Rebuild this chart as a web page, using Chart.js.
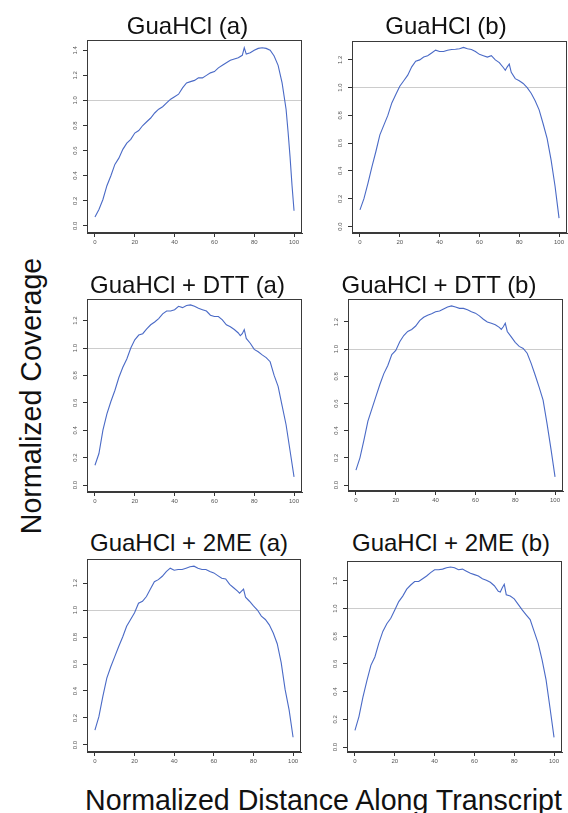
<!DOCTYPE html>
<html><head><meta charset="utf-8">
<script src="https://cdn.jsdelivr.net/npm/chart.js@4.4.1/dist/chart.umd.min.js"></script>
<style>
html,body{margin:0;padding:0;background:#fff;width:568px;height:813px;overflow:hidden;position:relative;font-family:'Liberation Sans',Arial,sans-serif;}
canvas{position:absolute;}
.t{position:absolute;white-space:nowrap;color:#111;font-size:24px;line-height:24px;transform:translateX(-50%);}
.ax{position:absolute;white-space:nowrap;color:#111;font-size:28.6px;line-height:28px;}
</style></head><body>
<script>
// ---- data ----
const titles = ["GuaHCl (a)", "GuaHCl (b)", "GuaHCl + DTT (a)", "GuaHCl + DTT (b)", "GuaHCl + 2ME (a)", "GuaHCl + 2ME (b)"];
const xLabel = "Normalized Distance Along Transcript";
const yLabel = "Normalized Coverage";
const xTicks = [0, 20, 40, 60, 80, 100];
const yTicksA = [0, 0.2, 0.4, 0.6, 0.8, 1.0, 1.2, 1.4];
const yTicksB = [0, 0.2, 0.4, 0.6, 0.8, 1.0, 1.2];

// positions along transcript (%)
const posA = [0,2,4,6,8,10,12,14,16,18,20,22,24,26,28,30,32,34,36,38,40,42,44,46,48,50,52,54,56,58,60,62,64,66,68,70,72,74,75,76,78,80,82,84,86,88,90,92,94,96,97,98,99,100];
const posB = [0,2,4,6,8,10,12,14,16,18,20,22,24,26,28,30,32,34,36,38,40,42,44,46,48,50,52,54,56,58,60,62,64,66,68,70,72,73,74,75,76,78,80,82,84,86,88,90,92,94,96,98,100];

const guaA = [0.07,0.13,0.21,0.32,0.40,0.49,0.54,0.61,0.66,0.69,0.74,0.76,0.80,0.83,0.86,0.90,0.93,0.95,0.98,1.01,1.03,1.05,1.10,1.14,1.15,1.16,1.18,1.18,1.20,1.22,1.23,1.26,1.28,1.30,1.32,1.33,1.34,1.36,1.42,1.37,1.38,1.40,1.415,1.42,1.415,1.40,1.355,1.28,1.14,0.93,0.75,0.55,0.32,0.12];
const guaB = [0.12,0.20,0.31,0.43,0.54,0.66,0.73,0.80,0.89,0.95,1.01,1.05,1.09,1.15,1.19,1.20,1.22,1.23,1.25,1.27,1.26,1.26,1.27,1.275,1.277,1.28,1.29,1.28,1.275,1.26,1.24,1.23,1.22,1.23,1.20,1.18,1.145,1.125,1.15,1.17,1.11,1.065,1.05,1.03,1.00,0.96,0.905,0.84,0.74,0.635,0.48,0.29,0.06];
const dttA = [0.144,0.23,0.40,0.52,0.61,0.69,0.785,0.86,0.92,1.00,1.06,1.095,1.105,1.14,1.17,1.19,1.215,1.25,1.27,1.27,1.28,1.305,1.295,1.31,1.315,1.305,1.29,1.28,1.27,1.24,1.23,1.23,1.205,1.17,1.155,1.135,1.11,1.09,1.105,1.135,1.07,1.035,0.99,0.973,0.95,0.93,0.90,0.80,0.72,0.58,0.44,0.25,0.06];
const dttB = [0.11,0.20,0.33,0.47,0.56,0.65,0.74,0.82,0.88,0.96,0.99,1.055,1.10,1.13,1.145,1.17,1.21,1.235,1.25,1.26,1.275,1.28,1.295,1.31,1.318,1.31,1.30,1.30,1.29,1.275,1.265,1.245,1.22,1.20,1.19,1.18,1.16,1.145,1.165,1.19,1.13,1.09,1.05,1.02,1.005,0.97,0.895,0.81,0.72,0.625,0.45,0.26,0.06];
const meA = [0.11,0.21,0.36,0.495,0.58,0.655,0.73,0.80,0.88,0.93,0.98,1.05,1.065,1.10,1.155,1.21,1.225,1.25,1.285,1.31,1.295,1.30,1.30,1.31,1.32,1.325,1.31,1.30,1.30,1.285,1.275,1.255,1.235,1.23,1.19,1.165,1.14,1.125,1.14,1.155,1.095,1.065,1.03,1.00,0.955,0.93,0.89,0.83,0.75,0.61,0.41,0.26,0.057];
const meB = [0.12,0.22,0.36,0.48,0.59,0.65,0.75,0.835,0.89,0.93,0.99,1.05,1.09,1.14,1.17,1.195,1.195,1.215,1.235,1.26,1.28,1.28,1.285,1.295,1.30,1.295,1.28,1.285,1.27,1.255,1.245,1.235,1.215,1.205,1.19,1.165,1.125,1.12,1.15,1.175,1.10,1.09,1.07,1.03,0.99,0.955,0.92,0.835,0.75,0.63,0.485,0.28,0.07];

// ---- layout (plot boxes in page pixels) ----
const panels = [
  {pos: posA, vals: guaA, yTicks: yTicksA, yMin: -0.057, yMax: 1.482, box: {l: 87, r: 302, t: 40, b: 233}, tx: 187.5, tb: 34},
  {pos: posB, vals: guaB, yTicks: yTicksB, yMin: -0.047, yMax: 1.336, box: {l: 352, r: 567, t: 41, b: 233}, tx: 446, tb: 34},
  {pos: posB, vals: dttA, yTicks: yTicksB, yMin: -0.051, yMax: 1.358, box: {l: 87, r: 302, t: 299, b: 492}, tx: 187.5, tb: 293},
  {pos: posB, vals: dttB, yTicks: yTicksB, yMin: -0.044, yMax: 1.369, box: {l: 348, r: 563, t: 299, b: 491}, tx: 439, tb: 293},
  {pos: posB, vals: meA, yTicks: yTicksB, yMin: -0.052, yMax: 1.378, box: {l: 87, r: 301, t: 559, b: 752}, tx: 189, tb: 551},
  {pos: posB, vals: meB, yTicks: yTicksB, yMin: -0.036, yMax: 1.3435, box: {l: 347, r: 562, t: 561, b: 752}, tx: 451, tb: 551}
];

const YW = 30, XH = 22, PAD = 3;
const tickFont = {family: "'Liberation Sans', Arial, sans-serif", size: 6};

const framePlugin = {
  id: 'frame',
  afterDraw(chart) {
    const a = chart.chartArea, ctx = chart.ctx;
    ctx.save();
    ctx.strokeStyle = '#3a3a3a';
    ctx.lineWidth = 1;
    ctx.strokeRect(Math.round(a.left) + 0.5, Math.round(a.top) + 0.5, Math.round(a.right - a.left) - 1, Math.round(a.bottom - a.top) - 1);
    ctx.restore();
  }
};

panels.forEach((p, i) => {
  const b = p.box;
  const cv = document.createElement('canvas');
  const w = (b.r - b.l) + YW + PAD, h = (b.b - b.t) + PAD + XH;
  cv.width = w; cv.height = h;
  cv.style.left = (b.l - YW) + 'px';
  cv.style.top = (b.t - PAD) + 'px';
  cv.style.width = w + 'px'; cv.style.height = h + 'px';
  document.body.appendChild(cv);

  const t = document.createElement('div');
  t.className = 't';
  t.textContent = titles[i];
  t.style.left = p.tx + 'px';
  t.style.top = (p.tb - 20) + 'px';
  document.body.appendChild(t);

  new Chart(cv, {
    type: 'line',
    data: {
      datasets: [{
        data: p.pos.map((x, k) => ({x: x, y: p.vals[k]})),
        borderColor: '#4a6ac6',
        borderWidth: 1.1,
        pointRadius: 0,
        tension: 0,
        fill: false
      }]
    },
    options: {
      responsive: false,
      animation: false,
      devicePixelRatio: 1,
      layout: {padding: {top: PAD, right: PAD, left: 0, bottom: 0}},
      plugins: {legend: {display: false}, tooltip: {enabled: false}, title: {display: false}},
      scales: {
        x: {
          type: 'linear', min: -4, max: 104,
          afterBuildTicks: s => { s.ticks = xTicks.map(v => ({value: v})); },
          afterFit: s => { s.height = XH; s.paddingLeft = 0; s.paddingRight = 0; },
          ticks: {callback: v => String(v), font: tickFont, color: '#555', padding: 2, maxRotation: 0, minRotation: 0, autoSkip: false},
          grid: {drawOnChartArea: false, drawTicks: true, tickLength: 4, tickColor: '#333'},
          border: {display: true, color: '#3a3a3a'}
        },
        y: {
          type: 'linear', min: p.yMin, max: p.yMax,
          afterBuildTicks: s => { s.ticks = p.yTicks.map(v => ({value: v})); },
          afterFit: s => { s.width = YW; s.paddingTop = 0; s.paddingBottom = 0; },
          ticks: {callback: v => v.toFixed(1), font: tickFont, color: '#555', padding: 3, minRotation: 90, maxRotation: 90, crossAlign: 'center', autoSkip: false},
          grid: {
            drawOnChartArea: true, drawTicks: true, tickLength: 4, tickColor: '#333',
            color: c => (c.tick && Math.abs(c.tick.value - 1) < 1e-9) ? '#cccccc' : 'rgba(0,0,0,0)'
          },
          border: {display: true, color: '#3a3a3a'}
        }
      }
    },
    plugins: [framePlugin]
  });
});

const xl = document.createElement('div');
xl.className = 'ax';
xl.textContent = xLabel;
xl.style.left = '323.5px';
xl.style.top = '786px';
xl.style.transform = 'translateX(-50%)';
document.body.appendChild(xl);

const yl = document.createElement('div');
yl.className = 'ax';
yl.textContent = yLabel;
yl.style.left = '31px';
yl.style.top = '395.5px';
yl.style.transform = 'translate(-50%,-50%) rotate(-90deg)';
document.body.appendChild(yl);
</script>
</body></html>
